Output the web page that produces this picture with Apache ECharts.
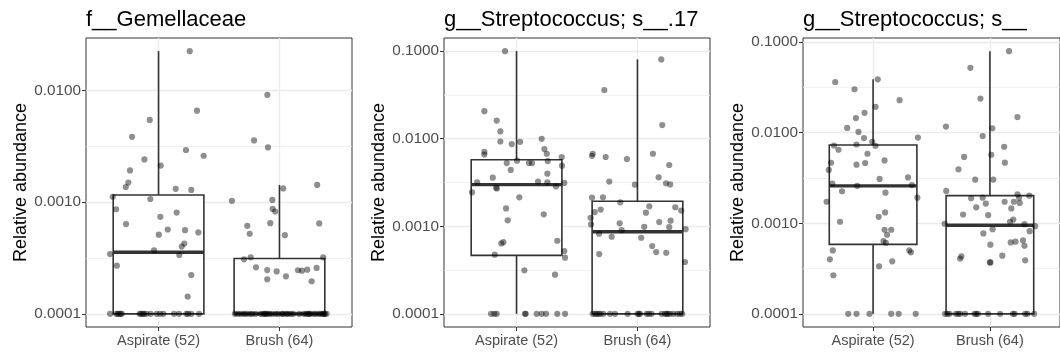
<!DOCTYPE html>
<html><head><meta charset="utf-8">
<script src="https://cdn.jsdelivr.net/npm/echarts@6/dist/echarts.min.js"></script>
<style>html,body{margin:0;padding:0;background:#fff}#c{width:1060px;height:354px}</style>
</head><body><div id="c"></div>
<script>
// ---------- data ----------
const panelTitles = ['f__Gemellaceae', 'g__Streptococcus; s__.17', 'g__Streptococcus; s__'];
const categories = ['Aspirate (52)', 'Brush (64)'];
const yTickLabels1 = ['0.0001', '0.0010', '0.0100'];
const yTickLabels2 = ['0.0001', '0.0010', '0.0100', '0.1000'];
const yTickLabels3 = ['0.0001', '0.0010', '0.0100', '0.1000'];
const yAxisTitle = 'Relative abundance';

// box stats: [lower whisker, Q1, median, Q3, upper whisker]
const box1Aspirate = [0.0001, 0.0001, 0.000356, 0.00116, 0.0226];
const box1Brush    = [0.0001, 0.0001, 0.0001, 0.000313, 0.00143];
const box2Aspirate = [0.0001, 0.000466, 0.00299, 0.00575, 0.1];
const box2Brush    = [0.0001, 0.0001, 0.000865, 0.00193, 0.0805];
const box3Aspirate = [0.0001, 0.000585, 0.00259, 0.00731, 0.0389];
const box3Brush    = [0.0001, 0.0001, 0.00095, 0.00202, 0.0796];

// jittered samples: [horizontal jitter, relative abundance]
const pts1Aspirate = [[0.258,0.0226],[0.318,0.00662],[-0.073,0.00547],[-0.219,0.00386],[0.227,0.00294],[0.373,0.00261],[-0.117,0.00242],[0.018,0.00213],[-0.236,0.00193],[-0.25,0.0015],[-0.271,0.00137],
[0.142,0.00132],[0.271,0.00129],[-0.379,0.00112],[-0.068,0.00107],[-0.351,0.000866],[-0.269,0.000637],[0.015,0.000741],[0.15,0.000809],[0.076,0.00057],[0.219,0.000562],[0.329,0.000537],[0.002,0.000512],[0.213,0.000427],[0.192,0.000401],[-0.037,0.00037],[-0.401,0.000343],[0.172,0.000337],[-0.345,0.00027],[0.271,0.000223],[0.241,0.000143],
[-0.401,0.0001],[-0.349,0.0001],[-0.337,0.0001],[-0.326,0.0001],[-0.313,0.0001],[-0.304,0.0001],[-0.156,0.0001],[-0.145,0.0001],[-0.131,0.0001],[-0.12,0.0001],[-0.1,0.0001],[-0.065,0.0001],[-0.015,0.0001],[0.012,0.0001],[0.04,0.0001],[0.128,0.0001],[0.169,0.0001],[0.23,0.0001],[0.244,0.0001],[0.271,0.0001],[0.335,0.0001]];
const pts1Brush = [[-0.1,0.00917],[-0.21,0.00358],[-0.095,0.0031],[0.312,0.00143],[-0.393,0.00103],[-0.059,0.00105],[0.031,0.00133],[-0.056,0.000872],[-0.035,0.000826],[-0.266,0.000615],[-0.076,0.000649],[0.329,0.000646],[-0.246,0.000522],[0.045,0.000507],[-0.293,0.000308],[-0.238,0.000321],[0.362,0.000321],[-0.194,0.000261],[-0.101,0.000247],[-0.023,0.00024],[0.054,0.000217],[-0.101,0.000204],[0.153,0.000246],[0.186,0.000244],[0.23,0.000249],[0.307,0.000258],[0.266,0.000196],
[-0.368,0.0001],[-0.343,0.0001],[-0.318,0.0001],[-0.293,0.0001],[-0.274,0.0001],[-0.246,0.0001],[-0.225,0.0001],[-0.197,0.0001],[-0.156,0.0001],[-0.136,0.0001],[-0.12,0.0001],[-0.114,0.0001],[-0.098,0.0001],[-0.081,0.0001],[-0.059,0.0001],[-0.031,0.0001],[-0.01,0.0001],[0.02,0.0001],[0.031,0.0001],[0.056,0.0001],[0.07,0.0001],[0.093,0.0001],[0.114,0.0001],[0.164,0.0001],[0.202,0.0001],[0.221,0.0001],[0.238,0.0001],[0.245,0.0001],[0.258,0.0001],[0.285,0.0001],[0.304,0.0001],[0.329,0.0001],[0.346,0.0001],[0.362,0.0001],[0.37,0.0001],[0.376,0.0001],[0.39,0.0001]];

const pts2Aspirate = [[-0.095,0.1],[-0.266,0.0206],[-0.164,0.0161],[-0.134,0.0121],[-0.134,0.00929],[-0.04,0.00868],[0.029,0.00922],[0.208,0.00997],[-0.266,0.0071],[-0.266,0.0066],[0.23,0.00762],[0.25,0.00673],[0.374,0.00618],[-0.081,0.00527],[0.004,0.00561],[0.103,0.00527],[0.128,0.00527],[0.258,0.00556],[0.376,0.00492],[-0.048,0.0044],[-0.197,0.00359],[0.255,0.00399],[-0.326,0.00318],[0.178,0.00324],[0.255,0.00318],[0.395,0.00313],[-0.169,0.00276],[-0.163,0.0027],[0.326,0.00286],[-0.368,0.00244],[0.023,0.00214],[-0.087,0.0016],[0.225,0.00137],[-0.073,0.00117],[0.337,0.000684],[-0.109,0.000659],[-0.126,0.000637],[-0.18,0.000474],[0.395,0.000521],[0.401,0.000438],[0.065,0.000314],[0.318,0.00028],
[-0.211,0.0001],[-0.184,0.0001],[-0.164,0.0001],[0.07,0.0001],[0.076,0.0001],[0.167,0.0001],[0.208,0.0001],[0.244,0.0001],[0.337,0.0001],[0.401,0.0001]];
const pts2Brush = [[0.197,0.0805],[-0.274,0.036],[0.205,0.0143],[-0.37,0.00673],[-0.376,0.00638],[-0.263,0.00618],[-0.087,0.00586],[0.128,0.00673],[0.263,0.00501],[0.175,0.00362],[-0.233,0.00324],[-0.021,0.00299],[0.236,0.0031],[0.271,0.00301],[-0.376,0.00213],[-0.285,0.00214],[-0.142,0.00188],[-0.354,0.00145],[-0.304,0.00155],[0.098,0.00169],[0.07,0.00143],[0.313,0.00165],[0.362,0.00151],[-0.387,0.00125],[-0.384,0.00105],[-0.147,0.00108],[-0.131,0.000904],[0.056,0.000987],[0.18,0.00112],[0.274,0.00116],[0.263,0.000978],[0.398,0.000927],[-0.318,0.000822],[-0.213,0.00076],[0.031,0.00074],[0.122,0.000594],[0.155,0.000507],[0.238,0.000499],[-0.316,0.000482],[0.393,0.000391],
[-0.37,0.0001],[-0.351,0.0001],[-0.337,0.0001],[-0.321,0.0001],[-0.307,0.0001],[-0.282,0.0001],[-0.227,0.0001],[-0.186,0.0001],[-0.081,0.0001],[0.001,0.0001],[0.012,0.0001],[0.021,0.0001],[0.076,0.0001],[0.095,0.0001],[0.117,0.0001],[0.2,0.0001],[0.227,0.0001],[0.241,0.0001],[0.25,0.0001],[0.269,0.0001],[0.296,0.0001],[0.329,0.0001],[0.351,0.0001],[0.37,0.0001]];

const pts3Aspirate = [[-0.324,0.0363],[0.04,0.0389],[-0.159,0.0302],[0.227,0.0229],[0.021,0.0193],[-0.073,0.0166],[-0.147,0.0145],[-0.222,0.0113],[-0.125,0.0102],[-0.078,0.00873],[0.384,0.00885],[-0.007,0.00794],[0.021,0.00718],[-0.335,0.00723],[-0.142,0.00741],[-0.296,0.00649],[-0.048,0.00586],[0.098,0.00494],[-0.36,0.00466],[-0.142,0.00444],[-0.068,0.00463],[-0.379,0.00388],[0.056,0.00309],[0.299,0.00321],[-0.349,0.00274],[-0.136,0.00259],[0.332,0.00264],[-0.266,0.00226],[0.106,0.00218],[0.379,0.00192],[-0.398,0.00173],[-0.283,0.00104],[0.048,0.00118],[0.103,0.00132],[0.098,0.000849],[0.155,0.000849],[0.12,0.000747],[0.089,0.000636],[0.109,0.00061],[-0.345,0.000502],[0.31,0.000502],[0.324,0.000478],[-0.37,0.0004],[0.164,0.00038],[0.051,0.000335],[-0.34,0.000267],
[-0.213,0.0001],[-0.142,0.0001],[-0.031,0.0001],[0.155,0.0001],[0.219,0.0001],[0.365,0.0001]];
const pts3Brush = [[0.164,0.0796],[-0.167,0.0521],[-0.081,0.0238],[0.236,0.0149],[-0.376,0.0117],[0.021,0.0112],[-0.062,0.00918],[0.122,0.007],[0.012,0.00571],[-0.221,0.0054],[0.128,0.00467],[-0.269,0.00394],[-0.126,0.00303],[0.029,0.00303],[-0.374,0.00228],[-0.161,0.00189],[-0.062,0.00192],[-0.035,0.00165],[-0.117,0.0015],[-0.23,0.00125],[-0.015,0.00123],[0.126,0.00173],[0.205,0.00173],[0.236,0.00209],[0.25,0.00192],[0.255,0.00168],[0.337,0.00202],[0.183,0.00146],[-0.387,0.000988],[0.172,0.00104],[0.2,0.0011],[0.023,0.000861],[0.296,0.000977],[0.387,0.000929],[0.34,0.000818],[-0.056,0.000772],[0.004,0.00058],[0.178,0.000615],[0.219,0.000626],[0.283,0.000647],[0.296,0.000565],[0.106,0.000439],[0.302,0.00039],[-0.255,0.000408],[-0.244,0.000431],[0.004,0.00037],[0.0,0.00037],
[-0.384,0.0001],[-0.365,0.0001],[-0.346,0.0001],[-0.291,0.0001],[-0.271,0.0001],[-0.255,0.0001],[-0.213,0.0001],[-0.131,0.0001],[-0.117,0.0001],[-0.103,0.0001],[-0.015,0.0001],[0.087,0.0001],[0.197,0.0001],[0.211,0.0001],[0.302,0.0001],[0.321,0.0001],[0.379,0.0001]];

// ---------- assembly ----------
const panels = [
  {title: panelTitles[0], ticks: yTickLabels1, boxes: [box1Aspirate, box1Brush], pts: [pts1Aspirate, pts1Brush]},
  {title: panelTitles[1], ticks: yTickLabels2, boxes: [box2Aspirate, box2Brush], pts: [pts2Aspirate, pts2Brush]},
  {title: panelTitles[2], ticks: yTickLabels3, boxes: [box3Aspirate, box3Brush], pts: [pts3Aspirate, pts3Brush]}
];
const gridLeft = [86, 444, 803];
const gridW = 266;
const FONT = '"Liberation Sans", Arial, sans-serif';
const lg = Math.log10;

const option = {animation: false, backgroundColor: '#fff', title: [], grid: [], xAxis: [], yAxis: [], series: []};

panels.forEach((p, i) => {
  const all = p.pts[0].concat(p.pts[1]).map(d => lg(d[1]));
  const lo = Math.min(...all), hi = Math.max(...all);
  const pad = (hi - lo) * 0.05;
  const yMin = lo - pad, yMax = hi + pad;
  const majors = p.ticks.map(t => lg(parseFloat(t)));
  const minors = [];
  for (let k = Math.floor(yMin); k < yMax; k++) { const m = k + 0.5; if (m > yMin && m < yMax) minors.push(m); }

  option.title.push({text: p.title, left: gridLeft[i], top: 9, padding: 0,
    textStyle: {fontFamily: FONT, fontSize: 22, fontWeight: 'normal', color: '#000'}});
  option.grid.push({left: gridLeft[i], width: gridW, top: 38, bottom: 27, show: true,
    borderColor: '#333333', borderWidth: 1, backgroundColor: 'transparent', containLabel: false});
  option.xAxis.push({type: 'value', gridIndex: i, min: 0.4, max: 2.6,
    axisLine: {show: false},
    axisTick: {show: true, length: 4, customValues: [1, 2], lineStyle: {color: '#333333', width: 1}},
    axisLabel: {customValues: [1, 2], margin: 6, formatter: v => categories[Math.round(v) - 1],
      fontFamily: FONT, fontSize: 14.5, color: '#4d4d4d'},
    splitLine: {show: true, lineStyle: {color: '#ebebeb', width: 1.3}}
  });
  option.yAxis.push({type: 'value', gridIndex: i, min: yMin, max: yMax,
    name: yAxisTitle, nameLocation: 'middle', nameGap: 56,
    nameTextStyle: {fontFamily: FONT, fontSize: 18, color: '#000'},
    axisLine: {show: false},
    axisTick: {show: true, length: 4, customValues: majors, lineStyle: {color: '#333333', width: 1}},
    axisLabel: {customValues: majors, margin: 5, formatter: v => Math.pow(10, v).toFixed(4),
      fontFamily: FONT, fontSize: 15.3, color: '#4d4d4d'},
    splitLine: {show: true, lineStyle: {color: '#ebebeb', width: 1.3}}
  });
  option.yAxis.push({type: 'value', gridIndex: i, min: yMin, max: yMax,
    axisLine: {show: false}, axisLabel: {show: false},
    axisTick: {show: false, customValues: minors},
    splitLine: {show: true, lineStyle: {color: '#ebebeb', width: 0.7}}
  });
  const yIdx = i * 2;
  option.series.push({
    type: 'custom', xAxisIndex: i, yAxisIndex: yIdx, z: 2, silent: true,
    data: p.boxes.map((b, c) => [c + 1].concat(b.map(lg))),
    renderItem: function (params, api) {
      const x = api.value(0);
      const v = [1, 2, 3, 4, 5].map(k => api.value(k));
      const pLo = api.coord([x, v[0]]), pQ1 = api.coord([x, v[1]]), pMed = api.coord([x, v[2]]),
            pQ3 = api.coord([x, v[3]]), pHi = api.coord([x, v[4]]);
      const left = api.coord([x - 0.375, v[2]])[0], right = api.coord([x + 0.375, v[2]])[0];
      const cx = pMed[0];
      const ls = {stroke: '#333333', lineWidth: 1.6, fill: null};
      return {type: 'group', children: [
        {type: 'line', shape: {x1: cx, y1: pHi[1], x2: cx, y2: pQ3[1]}, style: ls},
        {type: 'line', shape: {x1: cx, y1: pQ1[1], x2: cx, y2: pLo[1]}, style: ls},
        {type: 'rect', shape: {x: left, y: pQ3[1], width: right - left, height: pQ1[1] - pQ3[1]},
          style: {fill: '#ffffff', stroke: '#333333', lineWidth: 1.6}},
        {type: 'line', shape: {x1: left, y1: pMed[1], x2: right, y2: pMed[1]},
          style: {stroke: '#333333', lineWidth: 3.4}}
      ]};
    }
  });
  p.pts.forEach((arr, c) => {
    option.series.push({
      type: 'scatter', xAxisIndex: i, yAxisIndex: yIdx, z: 3, silent: true,
      symbol: 'circle', symbolSize: 6.2,
      itemStyle: {color: 'rgba(0,0,0,0.55)', borderWidth: 0},
      data: arr.map(d => [c + 1 + d[0], lg(d[1])])
    });
  });
});

const chart = echarts.init(document.getElementById('c'), null, {renderer: 'canvas'});
chart.setOption(option);
</script></body></html>
